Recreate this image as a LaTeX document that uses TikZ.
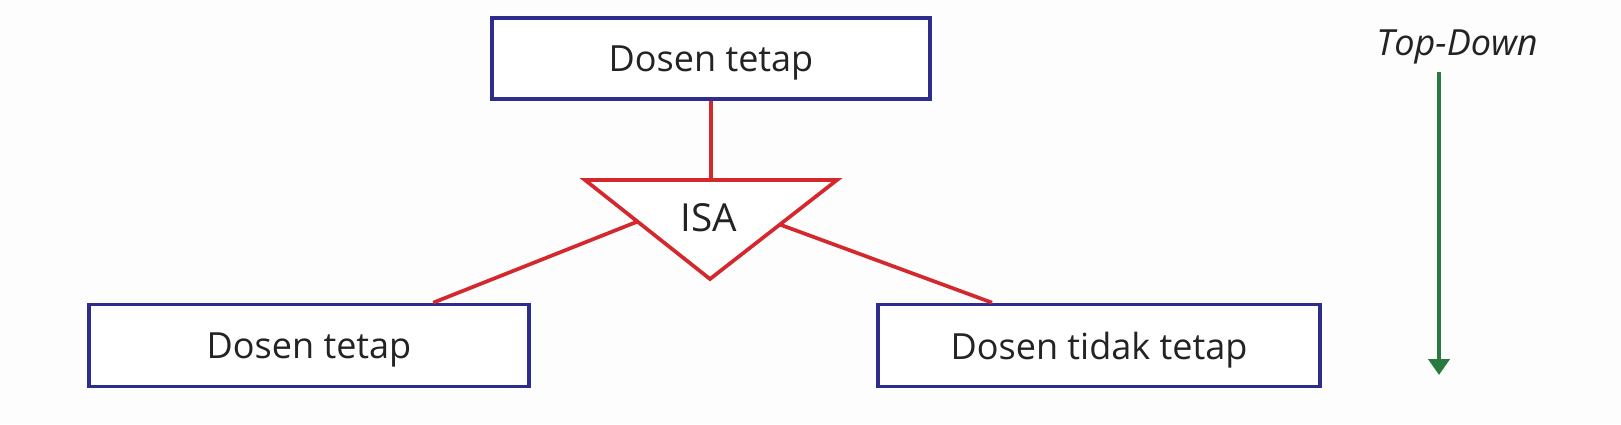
\documentclass[tikz,border=0pt]{standalone}
\usepackage{fontspec}
\setmainfont{Open Sans}
\usetikzlibrary{%
	calc,%
	arrows.meta,%
	positioning,%
}
\definecolor{cnavy}{RGB}{45, 45, 140}
\definecolor{cred}{RGB}{212, 40, 44}
\definecolor{cgreen}{RGB}{40, 122, 62}
\definecolor{ctext}{RGB}{35, 35, 35}
\definecolor{cback}{RGB}{253, 253, 253}
\tikzset{
	nodes={align=center, text=ctext},%
	entity/.style={%
			draw=cnavy,%
			rectangle,%
			line width=2.1pt,%
			minimum width=8.8cm,%
			minimum height=1.64cm,%
			text depth=0pt,%
			fill=white,%
			font={\fontsize{20.5}{24}\selectfont}},%
	isaline/.style={%
			draw=cred,%
			line width=2.1pt},%
	isalabel/.style={%
			inner sep=0,%
			font={\fontsize{22}{26}\selectfont}},%
	dirlabel/.style={%
			inner sep=0,%
			font={\fontsize{20.5}{24}\selectfont\itshape}},%
	dirarrow/.style={%
			draw=cgreen,%
			line width=2.5pt,%
			-{Triangle[width=0.42cm, length=0.32cm]}},%
}

\begin{document}
\begin{tikzpicture}%
	\useasboundingbox[fill=cback] (0,0) rectangle (32.42,8.48);

	\node[entity, minimum width=8.76cm, minimum height=1.62cm] (super) at (14.22,7.31) {Dosen tetap};
	\node[entity] (subleft) at (6.18,1.57) {Dosen tetap};
	\node[entity, minimum width=8.84cm] (subright) at (21.98,1.57) {Dosen tidak tetap};

	% ISA triangle
	\coordinate (isaL) at (11.70,4.88);
	\coordinate (isaR) at (16.74,4.88);
	\coordinate (isaB) at (14.20,2.90);
	\draw[isaline, fill=white, line join=miter] (isaL) -- (isaR) -- (isaB) -- cycle;
	\node[isalabel] (isa) at (14.18,4.12) {ISA};

	\coordinate (isaT) at (super.south |- isaL);
	\coordinate (isaLj) at ($(isaL)!0.42!(isaB)$);
	\coordinate (isaRj) at ($(isaR)!0.45!(isaB)$);
	\coordinate (subleftj) at ($(subleft.north west)!0.78!(subleft.north east)$);
	\coordinate (subrightj) at ($(subright.north west)!0.26!(subright.north east)$);

	\draw[isaline] (super.south) -- (isaT);
	\draw[isaline] (isaLj) -- (subleftj);
	\draw[isaline] (isaRj) -- (subrightj);

	% direction
	\node[dirlabel] (dir) at (29.14,7.54) {Top-Down};
	\coordinate (dirtop) at (28.78,7.04);
	\coordinate (dirbot) at (28.78,0.98);
	\draw[dirarrow] (dirtop) -- (dirbot);
\end{tikzpicture}
\end{document}
